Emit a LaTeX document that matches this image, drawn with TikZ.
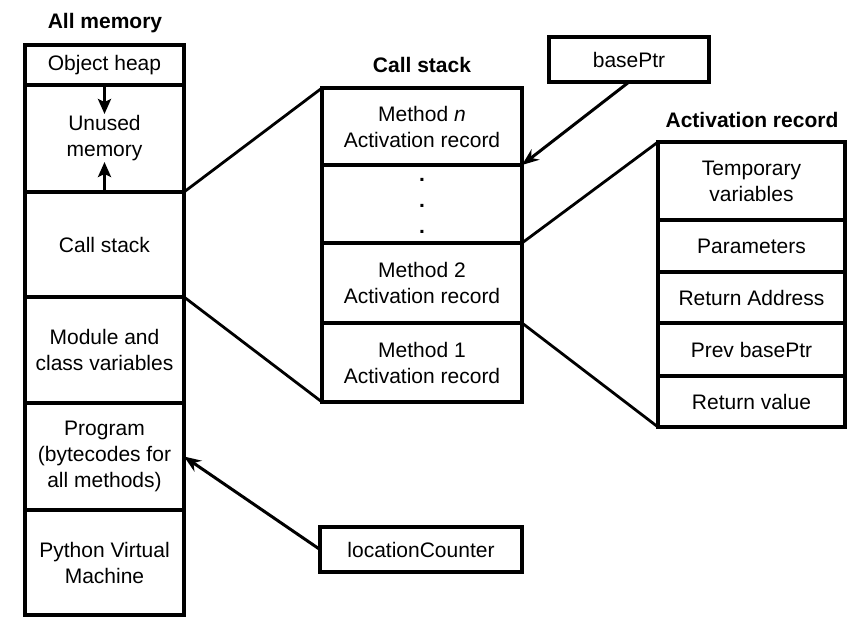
\documentclass[tikz,border=0pt]{standalone}
\usepackage{fontspec}
\setmainfont{Liberation Sans}
\usetikzlibrary{arrows.meta}
\begin{document}
\begin{tikzpicture}[x=1pt,y=-1pt,
  every node/.style={font=\fontsize{21}{26}\selectfont},
  cell/.style={draw, line width=3.8pt, rectangle, outer sep=0pt, inner sep=0pt, align=center},
  ttl/.style={font=\fontsize{21}{26}\selectfont\bfseries},
  link/.style={line width=2.8pt},
  ptr/.style={line width=3pt, -{Stealth[length=17pt,width=13pt]}},
  small/.style={line width=3pt, -{Stealth[length=15pt,width=13pt,inset=3pt]}}]
\useasboundingbox (0,0) rectangle (853,621);
% All memory column
\node[ttl] (tam) at (105,23) {All memory};
\node[cell, minimum width=159pt, minimum height=40pt] (oh) at (104.5,65) {Object heap};
\node[cell, minimum width=159pt, minimum height=107pt] (un) at (104.5,138.5) {Unused\\memory};
\node[cell, minimum width=159pt, minimum height=105pt] (cs) at (104.5,244.5) {Call stack};
\node[cell, minimum width=159pt, minimum height=106pt] (mv) at (104.5,350) {Module and\\class variables};
\node[cell, minimum width=159pt, minimum height=107pt] (pg) at (104.5,456.5) {Program\\(bytecodes for\\all methods)};
\node[cell, minimum width=159pt, minimum height=105pt] (pvm) at (104.5,562.5) {Python Virtual\\Machine};
% Call stack column
\node[ttl] (tcs) at (422,65) {Call stack};
\node[cell, minimum width=200pt, minimum height=77pt] (mn) at (422,126.5) {Method \textit{n}\\Activation record};
\node[cell, minimum width=200pt, minimum height=78pt] (dots) at (422,204) {};
\node[align=center, font=\fontsize{21}{26}\selectfont\bfseries] (dt) at (422,206) {.\\.\\.};
\node[cell, minimum width=200pt, minimum height=80pt] (m2) at (422,283) {Method 2\\Activation record};
\node[cell, minimum width=200pt, minimum height=79pt] (m1) at (422,362.5) {Method 1\\Activation record};
% Activation record column
\node[ttl] (tar) at (752,120) {Activation record};
\node[cell, minimum width=187pt, minimum height=78pt] (tv) at (751.5,181) {Temporary\\variables};
\node[cell, minimum width=187pt, minimum height=52pt] (par) at (751.5,246) {Parameters};
\node[cell, minimum width=187pt, minimum height=51pt] (ra) at (751.5,297.5) {Return Address};
\node[cell, minimum width=187pt, minimum height=53pt] (pb) at (751.5,349.5) {Prev basePtr};
\node[cell, minimum width=187pt, minimum height=51pt] (rv) at (751.5,401.5) {Return value};
% pointers
\node[cell, minimum width=160pt, minimum height=45pt] (bp) at (629,59.5) {basePtr};
\node[cell, minimum width=202pt, minimum height=45pt] (lc) at (421,549.5) {locationCounter};
% zoom connectors
\draw[link] (un.south east) -- (mn.north west);
\draw[link] (cs.south east) -- (m1.south west);
\draw[link] (dots.south east) -- (tv.north west);
\draw[link] (m2.south east) -- (rv.south west);
% arrows
\draw[ptr] (bp.south) -- (mn.south east);
\draw[ptr] (lc.west) -- (pg.east);
\coordinate (dn) at (104.5,114);
\coordinate (upc) at (104.5,162);
\draw[small] (oh.south) -- (dn);
\draw[small] (un.south) -- (upc);
\end{tikzpicture}
\end{document}
